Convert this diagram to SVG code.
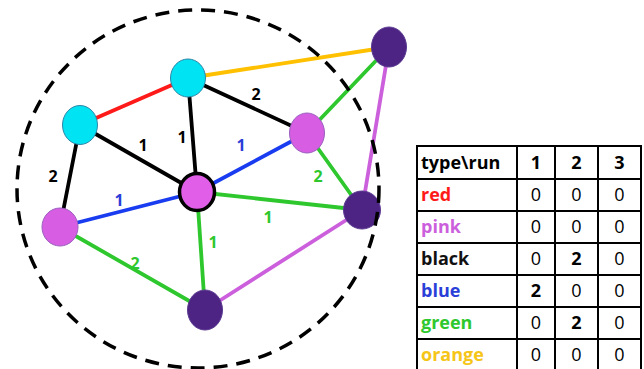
<svg xmlns="http://www.w3.org/2000/svg" width="644" height="369" viewBox="0 0 644 369">
<style>
.e{stroke-width:3.8;fill:none;stroke-linecap:round}
.bk{stroke:#000}.rd{stroke:#ff1a1a}.or{stroke:#ffc000}.bl{stroke:#1a3cf0}.gr{stroke:#2ec82e}.pk{stroke:#cc5fdc}
.lb{font-family:"Open Sans","Liberation Sans",sans-serif;font-weight:bold;font-size:16px;text-anchor:middle}
.cy{fill:#00e3f2;stroke:#2f86a8;stroke-width:1}
.pn{fill:#d75ee2;stroke:#9a5fc0;stroke-width:1}
.dp{fill:#4d2483;stroke:#5b3a92;stroke-width:1}
.t{font-family:"Open Sans","Liberation Sans",sans-serif;font-size:18px}
.tb{font-weight:bold}
.c{text-anchor:middle}
.grid{stroke:#000;stroke-width:2;fill:none}
</style>
<rect width="644" height="369" fill="#fff"/>
<g id="connectors">
<line class="e rd" x1="80" y1="125" x2="188" y2="78"/>
<line class="e or" x1="188" y1="78" x2="389" y2="47"/>
<line class="e bk" x1="188" y1="78" x2="307" y2="133"/>
<line class="e bk" x1="188" y1="78" x2="197" y2="192"/>
<line class="e bk" x1="80" y1="125" x2="197" y2="192"/>
<line class="e bk" x1="80" y1="125" x2="60" y2="227"/>
<line class="e bl" x1="60" y1="227" x2="197" y2="192"/>
<line class="e bl" x1="197" y1="192" x2="307" y2="133"/>
<line class="e gr" x1="307" y1="133" x2="389" y2="47"/>
<line class="e gr" x1="307" y1="133" x2="362" y2="210"/>
<line class="e gr" x1="197" y1="192" x2="362" y2="210"/>
<line class="e gr" x1="197" y1="192" x2="205" y2="310"/>
<line class="e gr" x1="60" y1="227" x2="205" y2="310"/>
<line class="e pk" x1="205" y1="310" x2="362" y2="210"/>
<line class="e pk" x1="362" y1="210" x2="389" y2="47"/>
<text class="lb" x="256" y="100" fill="#000">2</text>
<text class="lb" x="182" y="143" fill="#000">1</text>
<text class="lb" x="143" y="151" fill="#000">1</text>
<text class="lb" x="53" y="182" fill="#000">2</text>
<text class="lb" x="119" y="206" fill="#2a3ed8">1</text>
<text class="lb" x="241" y="151" fill="#2a3ed8">1</text>
<text class="lb" x="318" y="182" fill="#2ec82e">2</text>
<text class="lb" x="268" y="223" fill="#2ec82e">1</text>
<text class="lb" x="213" y="248" fill="#2ec82e">1</text>
<text class="lb" x="135" y="269" fill="#2ec82e">2</text>
</g>
<g id="n-top-cyan"><ellipse class="cy" cx="188" cy="78" rx="17.5" ry="19"/></g>
<g id="n-left-cyan"><ellipse class="cy" cx="80" cy="125" rx="17.5" ry="19.5"/></g>
<g id="n-right-pink"><ellipse class="pn" cx="307" cy="133" rx="17.5" ry="20"/></g>
<g id="n-center"><ellipse cx="197" cy="192" rx="17.5" ry="18.5" fill="#e15fe8" stroke="#000" stroke-width="3.5"/></g>
<g id="n-left-pink"><ellipse class="pn" cx="60" cy="227" rx="18" ry="19"/></g>
<g id="n-right-purple"><ellipse class="dp" cx="362" cy="210" rx="18.5" ry="19"/></g>
<g id="n-bottom-purple"><ellipse class="dp" cx="205" cy="310" rx="17.5" ry="20"/></g>
<g id="n-topright-purple"><ellipse class="dp" cx="389" cy="47" rx="17.5" ry="20"/></g>
<g id="boundary"><ellipse cx="198" cy="189" rx="181" ry="179" fill="none" stroke="#000" stroke-width="3.5" stroke-dasharray="14 9"/></g>
<g id="table">
<rect x="417" y="146" width="224" height="224" fill="#fff"/>
<path class="grid" d="M417 146H641V370H417Z M417 179H641 M417 211H641 M417 243H641 M417 275H641 M417 307H641 M417 339H641 M517 146V370 M555 146V370 M598 146V370"/>
<text class="t tb" x="421" y="169">type\run</text>
<text class="t tb c" x="536" y="169">1</text>
<text class="t tb c" x="576.5" y="169">2</text>
<text class="t tb c" x="619.5" y="169">3</text>
<text class="t tb" x="421" y="201" fill="#ff1a1a">red</text>
<text class="t tb" x="421" y="233" fill="#cc5fdc">pink</text>
<text class="t tb" x="421" y="265" fill="#111">black</text>
<text class="t tb" x="421" y="297" fill="#2a3ed8">blue</text>
<text class="t tb" x="421" y="329" fill="#2ec82e">green</text>
<text class="t tb" x="421" y="361" fill="#f5c518">orange</text>
<g class="t c">
<text x="536" y="201">0</text><text x="576.5" y="201">0</text><text x="619.5" y="201">0</text>
<text x="536" y="233">0</text><text x="576.5" y="233">0</text><text x="619.5" y="233">0</text>
<text x="536" y="265">0</text><text x="576.5" y="265" font-weight="bold">2</text><text x="619.5" y="265">0</text>
<text x="536" y="297" font-weight="bold">2</text><text x="576.5" y="297">0</text><text x="619.5" y="297">0</text>
<text x="536" y="329">0</text><text x="576.5" y="329" font-weight="bold">2</text><text x="619.5" y="329">0</text>
<text x="536" y="361">0</text><text x="576.5" y="361">0</text><text x="619.5" y="361">0</text>
</g>
</g>
</svg>
